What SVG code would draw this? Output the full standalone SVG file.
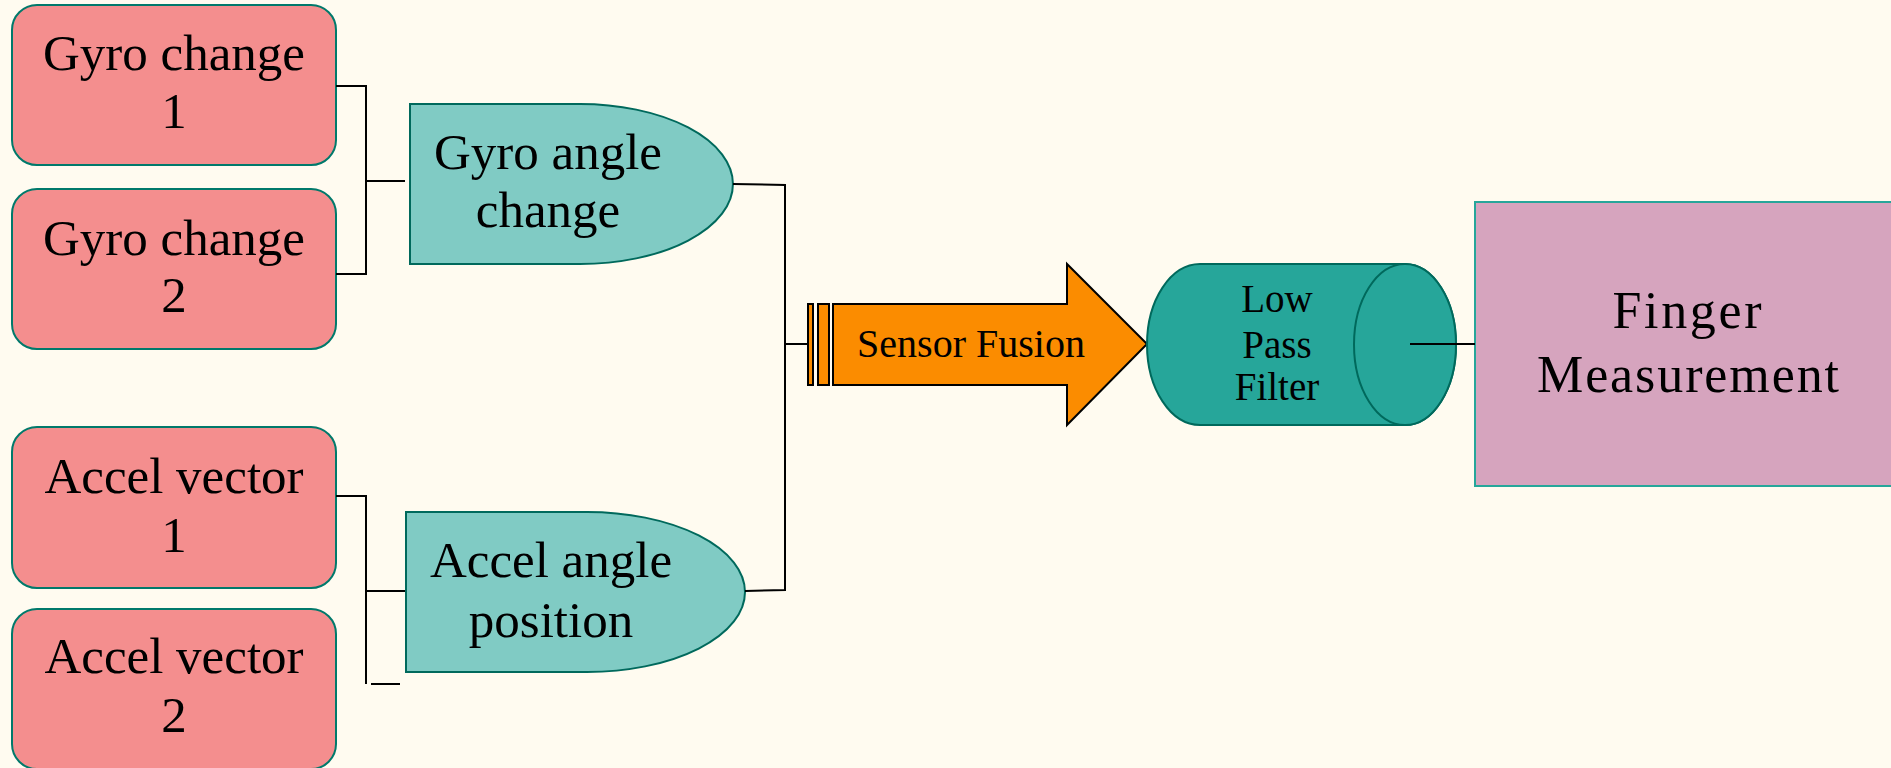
<svg xmlns="http://www.w3.org/2000/svg" width="1891" height="768" viewBox="0 0 1891 768" font-family="'Liberation Serif', 'DejaVu Serif', serif">
<style>
.bg{fill:#FFFBF0}
.src{fill:#F48E8E;stroke:#00796B;stroke-width:2}
.delay{fill:#80CBC4;stroke:#00695C;stroke-width:2}
.arrow{fill:#FB8C00;stroke:#000;stroke-width:2}
.cyl{fill:#26A69A;stroke:#00695C;stroke-width:2}
.out{fill:#D6A4BE;stroke:#26A69A;stroke-width:2}
.conn{fill:none;stroke:#000;stroke-width:2}
text{fill:#000;text-anchor:middle}
.t50{font-size:51px}
.t40{font-size:40px}
.t39{font-size:39px}
.t48{font-size:52px}
</style>
<rect class="bg" x="0" y="0" width="1891" height="768"/>
<g id="gyro1">
<rect class="src" x="12" y="5" width="324" height="160" rx="25"/>
<text class="t50" x="174" y="70">Gyro change</text>
<text class="t50" x="174" y="128">1</text>
</g>
<g id="gyro2">
<rect class="src" x="12" y="189" width="324" height="160" rx="25"/>
<text class="t50" x="174" y="255">Gyro change</text>
<text class="t50" x="174" y="312">2</text>
</g>
<g id="accel1">
<rect class="src" x="12" y="427" width="324" height="161" rx="25"/>
<text class="t50" x="174" y="493">Accel vector</text>
<text class="t50" x="174" y="552">1</text>
</g>
<g id="accel2">
<rect class="src" x="12" y="609" width="324" height="160" rx="25"/>
<text class="t50" x="174" y="673">Accel vector</text>
<text class="t50" x="174" y="732">2</text>
</g>
<g id="gyroAngle">
<path class="delay" d="M410,104 L580,104 A153,80 0 0 1 580,264 L410,264 Z"/>
<text class="t50" x="548" y="169">Gyro angle</text>
<text class="t50" x="548" y="227">change</text>
</g>
<g id="accelAngle">
<path class="delay" d="M406,512 L587,512 A158,80 0 0 1 587,672 L406,672 Z"/>
<text class="t50" x="551" y="577">Accel angle</text>
<text class="t50" x="551" y="637">position</text>
</g>
<g id="sensorFusion">
<rect class="arrow" x="808" y="304" width="5" height="81"/>
<rect class="arrow" x="818" y="304" width="11" height="81"/>
<polygon class="arrow" points="833,304 1067,304 1067,264 1147,344 1067,425 1067,385 833,385"/>
<text class="t40" x="971" y="357">Sensor Fusion</text>
</g>
<g id="lowPass">
<path class="cyl" d="M1200,264 L1405,264 A51,80.5 0 0 1 1405,425 L1200,425 A53,80.5 0 0 1 1200,264 Z"/>
<ellipse class="cyl" cx="1405" cy="344.5" rx="51" ry="80.5"/>
<text class="t39" x="1277" y="312">Low</text>
<text class="t39" x="1277" y="358">Pass</text>
<text class="t39" x="1277" y="400">Filter</text>
</g>
<g id="finger">
<rect class="out" x="1475" y="202" width="430" height="284"/>
<text class="t48" x="1687" y="328" textLength="149" lengthAdjust="spacing">Finger</text>
<text class="t48" x="1688" y="392" textLength="302" lengthAdjust="spacing">Measurement</text>
</g>
<g id="connectors">
<polyline class="conn" points="336,86 366,86 366,274 336,274"/>
<line class="conn" x1="366" y1="181" x2="405" y2="181"/>
<polyline class="conn" points="336,496 366,496 366,684"/>
<line class="conn" x1="366" y1="591" x2="405" y2="591"/>
<line class="conn" x1="371" y1="684" x2="400" y2="684"/>
<polyline class="conn" points="733,184 785,185 785,590 745,591"/>
<line class="conn" x1="785" y1="344" x2="808" y2="344"/>
<line class="conn" x1="1410" y1="344" x2="1475" y2="344"/>
</g>
</svg>
